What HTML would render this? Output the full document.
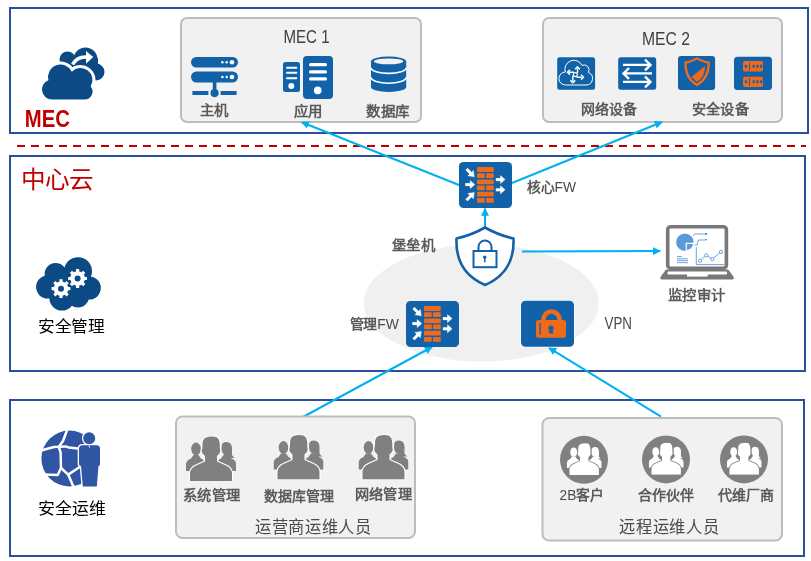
<!DOCTYPE html>
<html lang="zh-CN">
<head>
<meta charset="utf-8">
<style>
html,body{margin:0;padding:0;background:#fff;width:811px;height:561px;overflow:hidden}
svg{display:block;will-change:transform;font-family:"Liberation Sans",sans-serif}
.lbl{font-size:14px;fill:#5a5a5a;font-weight:700}
.blk{font-size:16px;fill:#000;font-weight:500}
</style>
</head>
<body>
<svg width="811" height="561" viewBox="0 0 811 561">
<defs>
  <marker id="ah" viewBox="0 0 10 10" refX="9" refY="5" markerWidth="4" markerHeight="4" orient="auto" markerUnits="strokeWidth">
    <path d="M0,0 L10,5 L0,10 Z" fill="#00b0f0"/>
  </marker>
  <symbol id="grp" viewBox="0 0 50 45" preserveAspectRatio="none">
    <g fill="currentColor">
      <ellipse cx="10" cy="13" rx="4.8" ry="6.4"/>
      <path d="M0,35 L0,28 Q0.5,24 5,22.5 L7.5,19 L12.5,19 L15,22.5 Q19,24 19,28 L19,35 Z"/>
      <ellipse cx="40.5" cy="13" rx="5" ry="6.4"/>
      <path d="M35.5,10 Q36,6 40.5,6 Q45.5,6 46,12 L46,19 Q47,21 49,22 L44,22 Z"/>
      <path d="M31,35 L31,28 Q31,24 35,22.5 L37.5,19 L43,19 L45.5,22.5 Q50,24 50,28 L50,35 Z"/>
    </g>
    <g fill="currentColor" stroke="var(--bg)" stroke-width="2.2" paint-order="stroke">
      <path d="M16.5,10 Q16,3 20,1.5 Q25,-0.3 30,1 Q34,2.5 33.8,10 L33.8,13 Q35,14.5 33.5,17.5 L31,20 L31,25.5 L40,29.5 Q45.5,32 46,37 L46,45 L4,45 L4,37 Q4.5,32 10,29.5 L19,25.5 L19,20 L16.5,17.5 Q15,14.5 16.2,13 Z"/>
    </g>
  </symbol>
</defs>

<!-- ===== Frames ===== -->
<rect x="10" y="8" width="798" height="125" fill="none" stroke="#2a4f9f" stroke-width="2"/>
<line x1="17" y1="146" x2="806" y2="146" stroke="#c00000" stroke-width="2.2" stroke-dasharray="8 6"/>
<rect x="10" y="156" width="795" height="215" fill="none" stroke="#2a4f9f" stroke-width="2"/>
<rect x="10" y="400" width="794" height="156" fill="none" stroke="#2a4f9f" stroke-width="2"/>

<!-- ===== MEC section ===== -->
<!-- cloud icon -->
<g fill="#0b4a84">
  <circle cx="67.5" cy="59.5" r="8"/>
  <circle cx="85.5" cy="59.5" r="12"/>
  <circle cx="96" cy="72" r="8.5"/>
  <rect x="62" y="58" width="36" height="22"/>
</g>
<path d="M52,99.5 A10,10 0 0 1 48.42,80.16 A12.5,12.5 0 0 1 71.83,71.72 A12,12 0 0 1 90.66,86.4 A8,8 0 0 1 84.5,99.5 Z" fill="#0b4a84" stroke="#fff" stroke-width="6" paint-order="stroke"/>
<path d="M72.5,64.5 Q77,56.5 86.5,57" fill="none" stroke="#fff" stroke-width="3.4"/>
<path d="M86,50.9 L93.2,56.9 L86,63.7 Z" fill="#fff"/>
<text x="24.8" y="127" font-size="23.4" font-weight="bold" fill="#c00000" textLength="45.1" lengthAdjust="spacingAndGlyphs">MEC</text>

<!-- MEC1 box -->
<rect x="181" y="18" width="240" height="104" rx="6" fill="#f1f1f1" stroke="#bdbdbd" stroke-width="2"/>
<text x="283.5" y="43.3" font-size="17.5" fill="#404040" textLength="46" lengthAdjust="spacingAndGlyphs">MEC 1</text>
<!-- server icon -->
<g fill="#1262a9">
  <rect x="191" y="57" width="47" height="10.5" rx="5.25"/>
  <rect x="191" y="71.5" width="47" height="11" rx="5.5"/>
  <rect x="212.8" y="82" width="3.6" height="10"/>
  <rect x="192.4" y="91" width="16" height="4"/>
  <rect x="220.6" y="91" width="16" height="4"/>
  <circle cx="214.6" cy="93.1" r="4.1"/>
</g>
<g fill="#fff">
  <circle cx="222.4" cy="62.3" r="1.2"/><circle cx="226.7" cy="62.3" r="1.2"/><circle cx="232" cy="62.3" r="2.3"/>
  <circle cx="222.4" cy="77" r="1.2"/><circle cx="226.7" cy="77" r="1.2"/><circle cx="232" cy="77" r="2.3"/>
</g>
<text class="lbl" x="200.1" y="114.7" textLength="28.8" lengthAdjust="spacingAndGlyphs">主机</text>
<!-- app icon -->
<g fill="#1262a9">
  <rect x="283" y="62" width="17" height="30" rx="2.5"/>
  <rect x="303" y="56" width="30" height="43" rx="4"/>
</g>
<g fill="#fff">
  <rect x="309" y="63" width="18" height="3.3" rx="1.5"/>
  <rect x="309" y="70.3" width="18" height="3.3" rx="1.5"/>
  <rect x="309" y="77.2" width="18" height="3.3" rx="1.5"/>
  <circle cx="317.7" cy="90.4" r="3.8"/>
  <rect x="286" y="66.7" width="11.4" height="2" rx="1"/>
  <rect x="286" y="71.7" width="11.4" height="2" rx="1"/>
  <rect x="286" y="77.2" width="11.4" height="2" rx="1"/>
  <circle cx="291.3" cy="86" r="3"/>
</g>
<text class="lbl" x="294.1" y="115.7" textLength="28.8" lengthAdjust="spacingAndGlyphs">应用</text>
<!-- database icon -->
<g fill="#1262a9">
  <rect x="371" y="61.5" width="35.2" height="25.5"/>
  <ellipse cx="388.6" cy="61.5" rx="17.6" ry="5"/>
  <ellipse cx="388.6" cy="87" rx="17.6" ry="5"/>
</g>
<ellipse cx="388.6" cy="61.4" rx="14.7" ry="2.9" fill="#f1f1f1"/>
<path d="M371,67.8 A17.6,5.6 0 0 0 406.2,67.8 M371,77.2 A17.6,6 0 0 0 406.2,77.2" fill="none" stroke="#fff" stroke-width="1.6"/>
<text class="lbl" x="366.1" y="115.7" textLength="43.5" lengthAdjust="spacingAndGlyphs">数据库</text>

<!-- MEC2 box -->
<rect x="543" y="18" width="239" height="104" rx="6" fill="#f1f1f1" stroke="#bdbdbd" stroke-width="2"/>
<text x="642" y="45.3" font-size="17.5" fill="#404040" textLength="48" lengthAdjust="spacingAndGlyphs">MEC 2</text>
<!-- network cloud icon -->
<rect x="557.2" y="57.2" width="37.9" height="32.5" rx="2.5" fill="#1262a9"/>
<path d="M565.5,85 A6.5,6.5 0 0 1 565.3,72 A9,9 0 0 1 582,65.4 A5,5 0 0 1 588.4,72.45 A6.5,6.5 0 0 1 586,85 Z" fill="none" stroke="#fff" stroke-width="1"/>
<g stroke="#fff" stroke-width="1.4" fill="none">
  <path d="M577.5,68.5 V73.2 M569,72.2 H574 M572.8,75.5 V81 M576.5,77.2 H581.5"/>
  <circle cx="575.3" cy="74.6" r="2" stroke-width="1.1"/>
  <path d="M575.1,69.3 L577.5,66.9 L579.9,69.3 M569.9,69.8 L567.5,72.2 L569.9,74.6 M570.4,80.4 L572.8,82.8 L575.2,80.4 M581,74.8 L583.4,77.2 L581,79.6" stroke-width="1.5"/>
</g>
<!-- switch icon -->
<rect x="618.2" y="57.2" width="38" height="32.5" rx="2.5" fill="#1262a9"/>
<g stroke="#fff" stroke-width="2.4" fill="none" stroke-linecap="butt">
  <path d="M623,64.9 H650 M645,59.5 L650.5,64.9 L645,70.3"/>
  <path d="M624,73.4 H652 M629,68 L623.5,73.4 L629,78.8"/>
  <path d="M623,81.9 H650 M645,76.5 L650.5,81.9 L645,87.3"/>
</g>
<text class="lbl" x="580.8" y="113.7" textLength="55.8" lengthAdjust="spacingAndGlyphs">网络设备</text>
<!-- shield icon -->
<rect x="678" y="56" width="37.1" height="34" rx="3" fill="#1262a9"/>
<path d="M697,58.5 Q690,62 685.5,62.5 Q685,78 697,85 Q709,78 708.7,62.5 Q704,62 697,58.5 Z" fill="none" stroke="#f06a1c" stroke-width="2.4" stroke-linejoin="round"/>
<path d="M691.5,77 L705,66 Q705,77 697,82 Z" fill="#f06a1c"/>
<!-- orange server icon -->
<rect x="734" y="56.8" width="38" height="33.1" rx="3.5" fill="#1262a9"/>
<g fill="#f06a1c">
  <rect x="743" y="61.1" width="20" height="10.5" rx="2"/>
  <rect x="743" y="76.8" width="20" height="10.1" rx="2"/>
</g>
<g fill="#1262a9">
  <ellipse cx="745.9" cy="66.3" rx="1.2" ry="1.7"/><rect x="749" y="62.5" width="1" height="7.8"/>
  <ellipse cx="753.7" cy="66.3" rx="1.2" ry="1.7"/><ellipse cx="757.5" cy="66.3" rx="1.2" ry="1.7"/><ellipse cx="761.2" cy="66.3" rx="1.2" ry="1.7"/>
  <ellipse cx="745.9" cy="81.8" rx="1.2" ry="1.7"/><rect x="749" y="78" width="1" height="7.8"/>
  <ellipse cx="753.7" cy="81.8" rx="1.2" ry="1.7"/><ellipse cx="757.5" cy="81.8" rx="1.2" ry="1.7"/><ellipse cx="761.2" cy="81.8" rx="1.2" ry="1.7"/>
</g>
<text class="lbl" x="692.1" y="113.7" textLength="56.8" lengthAdjust="spacingAndGlyphs">安全设备</text>

<!-- ===== Center cloud section ===== -->
<text x="20.9" y="188.3" font-size="23.5" font-weight="500" fill="#c00000" font-family="Liberation Serif,serif" textLength="72.3" lengthAdjust="spacingAndGlyphs">中心云</text>
<ellipse cx="481.3" cy="303" rx="117.5" ry="58.5" fill="#f0f0f0"/>

<!-- gear cloud -->
<g fill="#0b4a84">
  <circle cx="55.6" cy="274" r="11"/>
  <circle cx="78" cy="271.2" r="14"/>
  <circle cx="47.6" cy="287" r="11.5"/>
  <circle cx="89.3" cy="288" r="11.5"/>
  <circle cx="62" cy="298" r="12.6"/>
  <circle cx="78" cy="296.5" r="11"/>
  <rect x="48" y="275" width="42" height="20"/>
</g>
<circle cx="61" cy="288.7" r="7.3" fill="#fff"/>
<path d="M61.00,288.70 L70.40,288.70 M61.00,288.70 L67.65,295.35 M61.00,288.70 L61.00,298.10 M61.00,288.70 L54.35,295.35 M61.00,288.70 L51.60,288.70 M61.00,288.70 L54.35,282.05 M61.00,288.70 L61.00,279.30 M61.00,288.70 L67.65,282.05 " stroke="#fff" stroke-width="3.2"/>
<circle cx="61" cy="288.7" r="3" fill="#0b4a84"/>
<circle cx="77.6" cy="278.5" r="7.3" fill="#fff"/>
<path d="M77.60,278.50 L87.00,278.50 M77.60,278.50 L84.25,285.15 M77.60,278.50 L77.60,287.90 M77.60,278.50 L70.95,285.15 M77.60,278.50 L68.20,278.50 M77.60,278.50 L70.95,271.85 M77.60,278.50 L77.60,269.10 M77.60,278.50 L84.25,271.85 " stroke="#fff" stroke-width="3.2"/>
<circle cx="77.6" cy="278.5" r="3" fill="#0b4a84"/>
<text class="blk" x="37.9" y="332" textLength="66.8" lengthAdjust="spacingAndGlyphs">安全管理</text>

<!-- arrows -->
<g stroke="#00b0f0" stroke-width="2" fill="none" marker-end="url(#ah)">
  <line x1="459" y1="185" x2="301.8" y2="122.3"/>
  <line x1="512" y1="183" x2="662" y2="122"/>
  <line x1="485" y1="227" x2="485" y2="208.5"/>
  <line x1="522" y1="251.6" x2="660.2" y2="251.1"/>
  <line x1="302" y1="417.5" x2="432" y2="347"/>
  <line x1="661" y1="416.6" x2="549" y2="347.8"/>
</g>

<!-- core FW -->
<g id="fw">
<rect x="459" y="162" width="53" height="46" rx="4.5" fill="#1262a9"/>
<g fill="#f06a1c">
  <rect x="477" y="167.1" width="16.8" height="4.8" rx="1"/>
  <rect x="477" y="173.2" width="7.8" height="4.8" rx="1"/><rect x="486" y="173.2" width="7.8" height="4.8" rx="1"/>
  <rect x="477" y="179.4" width="16.8" height="4.8" rx="1"/>
  <rect x="477" y="185.5" width="7.8" height="4.8" rx="1"/><rect x="486" y="185.5" width="7.8" height="4.8" rx="1"/>
  <rect x="477" y="191.7" width="16.8" height="4.8" rx="1"/>
  <rect x="477" y="198" width="7.8" height="4.8" rx="1"/><rect x="486" y="198" width="7.8" height="4.8" rx="1"/>
</g>
<g fill="#fff" stroke="#fff" stroke-width="3">
  <path d="M465.3,184.6 H471" fill="none"/><path d="M470.2,180.6 L474.8,184.6 L470.2,188.6 Z" stroke-width="0.4"/>
  <path d="M495.8,179.6 H501.5" fill="none"/><path d="M500.5,175.6 L505.1,179.6 L500.5,183.6 Z" stroke-width="0.4"/>
  <path d="M495.8,189.8 H501.5" fill="none"/><path d="M500.5,185.8 L505.1,189.8 L500.5,193.8 Z" stroke-width="0.4"/>
  <path d="M466.5,169 L471,173.5" fill="none"/><path d="M474.3,176.8 L467.9,175.8 L473.3,170.4 Z" stroke-width="0.4"/>
  <path d="M466.5,200.2 L471,195.7" fill="none"/><path d="M474.3,192.4 L467.9,193.4 L473.3,198.8 Z" stroke-width="0.4"/>
</g>
</g>
<text class="lbl" x="526.9" y="191.9" font-size="13" textLength="49.0" lengthAdjust="spacingAndGlyphs">核心<tspan font-weight="400" fill="#4a4a4a">FW</tspan></text>

<!-- bastion shield -->
<path d="M485,227.5 Q472,235 456.5,238.5 Q455,272 485,285 Q515,272 513.5,238.5 Q498,235 485,227.5 Z" fill="#fff" stroke="#1262a9" stroke-width="2.6" stroke-linejoin="round"/>
<path d="M478.5,251 V247 A6.5,6.5 0 0 1 491.5,247 V251" fill="none" stroke="#1262a9" stroke-width="2"/>
<rect x="473.5" y="251" width="23" height="16.2" fill="none" stroke="#1262a9" stroke-width="2"/>
<circle cx="484.7" cy="257.3" r="1.7" fill="#1262a9"/>
<rect x="484" y="257.3" width="1.5" height="5" fill="#1262a9"/>
<text class="lbl" x="391.9" y="250.2" textLength="43.2" lengthAdjust="spacingAndGlyphs">堡垒机</text>

<!-- manage FW (copy) -->
<use href="#fw" x="-53" y="139"/>
<text class="lbl" x="349.5" y="328.7" font-size="13" textLength="49.4" lengthAdjust="spacingAndGlyphs">管理<tspan font-weight="400" fill="#4a4a4a">FW</tspan></text>

<!-- VPN -->
<rect x="520.5" y="300.3" width="54" height="47" rx="5" fill="#fff"/>
<rect x="521" y="300.8" width="53" height="46" rx="4.5" fill="#1262a9"/>
<path d="M543.5,321 V319.5 A8,8 0 0 1 559.5,319.5 V321" fill="none" stroke="#f06a1c" stroke-width="4.5"/>
<rect x="536" y="320" width="30" height="17.8" rx="2.5" fill="#f06a1c"/>
<rect x="539.5" y="322.8" width="1.3" height="11.7" fill="#1262a9"/>
<circle cx="551" cy="328" r="2.6" fill="#1262a9"/>
<path d="M549.7,328.5 L548.8,333.5 H553.2 L552.3,328.5 Z" fill="#1262a9"/>
<text x="604.5" y="328.8" font-size="16" fill="#4a4a4a" textLength="27.5" lengthAdjust="spacingAndGlyphs">VPN</text>

<!-- laptop -->
<rect x="667.7" y="226.7" width="58.7" height="41.5" rx="3" fill="#fff" stroke="#787878" stroke-width="3.6"/>
<path d="M666,269.5 H728.2 L733.7,277 Q734.5,279.6 731,279.6 H663 Q659.5,279.6 660.5,277 Z" fill="#787878"/>
<rect x="667.5" y="271.6" width="59.5" height="2.8" rx="1" fill="#fff"/>
<rect x="687" y="274" width="20.7" height="2.6" fill="#fff"/>
<g fill="#5b9bd5">
  <path d="M684.9,242.2 m-8.7,0 a8.7,8.7 0 1 0 17.4,0 a8.7,8.7 0 1 0 -17.4,0 Z"/>
</g>
<path d="M685.6,242.8 H694 A8.7,8.7 0 0 1 685.6,251.5 Z" fill="#fff"/>
<path d="M686.8,244 H693 A7.3,7.3 0 0 1 686.8,250 Z" fill="#5b9bd5"/>
<g stroke="#5b9bd5" stroke-width="0.9" fill="none">
  <path d="M693,236 L694.5,234 H705"/>
  <path d="M694.5,245 H697 L698.5,240 H705"/>
  <path d="M677,256.6 H682 M677,258.8 H688 M677,260.6 H688 M677,262.6 H688"/>
  <path d="M696.3,247.2 V264.6 H724.1"/>
  <path d="M700,260.8 L706.3,255.3 L712.3,259.1 L721,251.8"/>
</g>
<g fill="#fff" stroke="#5b9bd5" stroke-width="0.9">
  <circle cx="700" cy="260.8" r="1.6"/><circle cx="706.3" cy="255.3" r="1.6"/><circle cx="712.3" cy="259.1" r="1.6"/><circle cx="721" cy="251.8" r="1.6"/>
</g>
<g fill="#5b9bd5"><rect x="705" y="233" width="2" height="2"/><rect x="705" y="239" width="2" height="1.3"/></g>
<text class="lbl" x="667.9" y="299.8" font-size="14" textLength="57.5" lengthAdjust="spacingAndGlyphs">监控审计</text>

<!-- ===== Ops section ===== -->
<!-- globe + person -->
<circle cx="69.4" cy="458.5" r="28" fill="#2f55a3"/>
<g stroke="#fff" stroke-width="2.5" fill="none" stroke-linejoin="round" stroke-linecap="round">
  <path d="M40,450.8 L54,447 L58.8,446.8 L63,441 L67.5,429"/>
  <path d="M58.8,446.8 L65.4,446.4 L69,447.5 L78,448.5"/>
  <path d="M58.8,446.8 L60.6,452.5 L61,468 L57.7,475 L44,474.5"/>
  <path d="M61,468 L68.2,474.6 L79,467.5"/>
  <path d="M68.2,474.6 L74,488"/>
</g>
<g fill="#2f55a3" stroke="#fff" stroke-width="2.6" paint-order="stroke">
  <circle cx="89.2" cy="438.3" r="6"/>
  <path d="M82.5,445.3 H96.5 Q100,445.3 100,449 V464 Q100,466 98.5,466 L96.8,486.5 H82.8 L81,466 Q79,466 79,464 V449 Q79,445.3 82.5,445.3 Z"/>
</g>
<rect x="78" y="487.9" width="24" height="3" fill="#fff"/>
<path d="M88.6,445.8 L89.3,448.6 L90,445.8 Z" fill="#fff"/>
<text class="blk" x="38.1" y="514" textLength="67.8" lengthAdjust="spacingAndGlyphs">安全运维</text>

<!-- operator box -->
<rect x="176" y="416.5" width="239" height="121.5" rx="6.5" fill="#f1f1f1" stroke="#bdbdbd" stroke-width="2"/>
<g style="color:#808080;--bg:#fff">
  <use href="#grp" x="186" y="436" width="50" height="45"/>
  <use href="#grp" x="273.5" y="434.5" width="50" height="45"/>
  <use href="#grp" x="358.5" y="434.5" width="50" height="45"/>
</g>
<text class="lbl" x="183.1" y="500.2" textLength="57.2" lengthAdjust="spacingAndGlyphs">系统管理</text>
<text class="lbl" x="264.1" y="500.7" textLength="70.2" lengthAdjust="spacingAndGlyphs">数据库管理</text>
<text class="lbl" x="355.1" y="498.7" textLength="56.8" lengthAdjust="spacingAndGlyphs">网络管理</text>
<text x="254.8" y="533" font-size="16.5" font-weight="500" fill="#4a4a4a" textLength="117.1" lengthAdjust="spacingAndGlyphs">运营商运维人员</text>

<!-- remote box -->
<rect x="542.5" y="418" width="239.5" height="122.5" rx="6.5" fill="#f1f1f1" stroke="#bdbdbd" stroke-width="2"/>
<g fill="#808080">
  <circle cx="584" cy="459.8" r="24"/>
  <circle cx="666" cy="459.4" r="24"/>
  <circle cx="744" cy="459.4" r="24"/>
</g>
<g style="color:#fff;--bg:#808080">
  <use href="#grp" x="566.7" y="442.8" width="35" height="32.3"/>
  <use href="#grp" x="648.7" y="442.4" width="35" height="32.3"/>
  <use href="#grp" x="726.7" y="442.4" width="35" height="32.3"/>
</g>
<text class="lbl" x="559.6" y="500.4" textLength="44.3" lengthAdjust="spacingAndGlyphs"><tspan font-weight="400" fill="#4a4a4a">2B</tspan>客户</text>
<text class="lbl" x="637.9" y="500.4" textLength="56.0" lengthAdjust="spacingAndGlyphs">合作伙伴</text>
<text class="lbl" x="717.9" y="500.4" textLength="56.0" lengthAdjust="spacingAndGlyphs">代维厂商</text>
<text x="619.1" y="532.8" font-size="16.5" font-weight="500" fill="#4a4a4a" textLength="100.6" lengthAdjust="spacingAndGlyphs">远程运维人员</text>

</svg>
</body>
</html>
